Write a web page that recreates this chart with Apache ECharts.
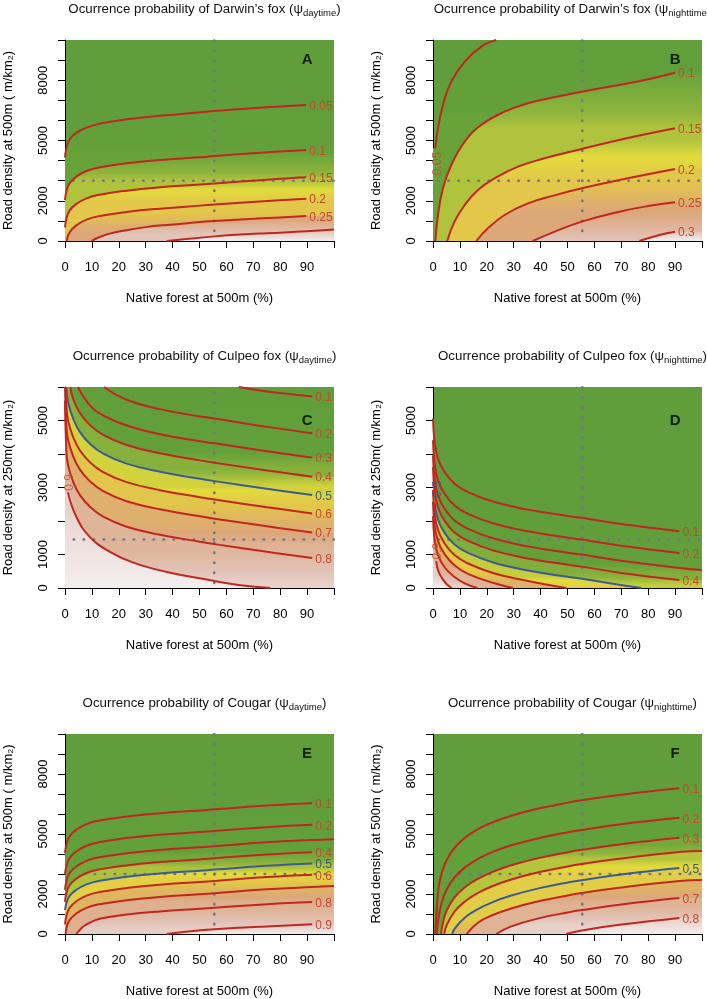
<!DOCTYPE html>
<html><head><meta charset="utf-8">
<script src="https://cdn.jsdelivr.net/npm/echarts@6/dist/echarts.min.js"></script>
<style>html,body{margin:0;padding:0;background:#fff}#c{width:707px;height:999px}</style>
</head><body><div id="c"></div>
<script>
// ================= DATA =================
const forestTickLabels = [0,10,20,30,40,50,60,70,80,90];
const roadTickLabels500 = [0,2000,5000,8000];
const roadTickLabels250 = [0,1000,3000,5000];

// Panel A: Darwin's fox, daytime
const levelsA = [0.05,0.1,0.15,0.2,0.25,0.3];
const contoursA = [
 [[0,4150],[0.5,4600],[1.7,5050],[4.2,5380],[8,5640],[12.9,5840],[22.9,6060],[35.3,6230],[50.2,6400],[55.6,6470],[75.1,6650],[89.7,6766]],
 [[0,2040],[0.5,2454],[1.7,2869],[4.2,3200],[8,3483],[12.9,3665],[22.9,3864],[35.3,4030],[50.2,4163],[55.6,4230],[75.1,4411],[89.7,4527]],
 [[0,680],[0.5,1094],[1.7,1509],[4.2,1840],[8,2123],[12.9,2305],[22.9,2504],[35.3,2670],[50.2,2810],[55.6,2860],[75.1,3051],[89.7,3167]],
 [[0.6,0],[1.7,430],[4.2,779],[8,1062],[12.9,1244],[22.9,1443],[35.3,1609],[50.2,1760],[55.6,1810],[75.1,1990],[89.7,2106]],
 [[9.8,0],[12.9,200],[17,380],[22.9,540],[30,690],[37.8,800],[50.2,940],[55.6,1000],[75.1,1140],[89.7,1244]],
 [[37.8,0],[45,100],[55.6,230],[65,320],[75.1,390],[89.7,480],[100,570]]
];
// Panel B: Darwin's fox, nighttime
const levelsB = [0.05,0.1,0.15,0.2,0.25,0.3];
const contoursB = [
 [[0.87,4610],[1.86,5605],[3.7,6766],[6.8,7927],[11.8,8922],[17.9,9668],[23.5,10000]],
 [[0.87,0],[1.86,1294],[3.7,2620],[6.8,3781],[11.8,4942],[17.9,5771],[26.6,6434],[35.3,6849],[45,7150],[55.3,7430],[69.3,7761],[80,8050],[90,8375]],
 [[5.3,0],[8,962],[11.8,1791],[16.7,2537],[22.9,3118],[31.6,3698],[41.5,4113],[50.1,4411],[55.3,4580],[70,5050],[90,5605]],
 [[16.1,0],[20.4,630],[26.6,1294],[35.3,1874],[45.2,2270],[55.3,2620],[69.3,3035],[90,3582]],
 [[37.1,0],[44.6,430],[55.3,962],[69.3,1459],[80,1740],[90,1924]],
 [[76.7,0],[84.2,300],[90,464]]
];
// Panel C: Culpeo fox, daytime
const levelsC = [0.1,0.2,0.3,0.4,0.5,0.6,0.7,0.8,0.9];
const contoursC = [
 [[64.6,6000],[75.1,5868],[91.9,5719]],
 [[14.5,6000],[22.9,5620],[35.3,5340],[50.2,5120],[55.6,5060],[75.1,4810],[91.9,4621]],
 [[4.8,6000],[9.2,5460],[14.2,5150],[22.9,4850],[35.3,4590],[50.2,4380],[55.6,4320],[75.1,4080],[91.9,3892]],
 [[2,6000],[3,5650],[5.5,5230],[9.2,4870],[14.2,4570],[22.9,4270],[35.3,4020],[50.2,3810],[55.6,3740],[75.1,3510],[91.9,3323]],
 [[0.5,6000],[1.1,5559],[3,5060],[5.5,4661],[9.2,4311],[14.2,4012],[22.9,3713],[35.3,3470],[50.2,3260],[55.6,3190],[75.1,2960],[91.9,2774]],
 [[0.15,6000],[0.5,5450],[1.1,5010],[3,4510],[5.5,4110],[9.2,3760],[14.2,3460],[22.9,3160],[35.3,2920],[50.2,2710],[55.6,2640],[75.1,2410],[91.9,2226]],
 [[0.05,6000],[0.5,4880],[1.1,4440],[3,3940],[5.5,3540],[9.2,3190],[14.2,2890],[22.9,2590],[35.3,2350],[50.2,2140],[55.6,2070],[75.1,1840],[91.9,1657]],
 [[0,5600],[0.5,4120],[1.1,3680],[3,3180],[5.5,2780],[9.2,2430],[14.2,2130],[22.9,1830],[35.3,1590],[50.2,1380],[55.6,1310],[75.1,1080],[91.9,898]],
 [[1.1,2854],[4.2,2126],[9.2,1527],[16.7,1078],[25.4,758],[37.8,479],[55.6,210],[65.2,80],[76.4,0]]
];
// Panel D: Culpeo fox, nighttime
const levelsD = [0.1,0.2,0.3,0.4,0.5,0.6,0.7,0.8,0.9];
const contoursD = [
 [[0,5060],[0.6,4361],[1.86,3862],[4.3,3463],[8,3114],[13,2864],[22.9,2565],[35.3,2340],[50.1,2150],[55.3,2095],[69.3,1915],[91.6,1697]],
 [[0,4411],[0.6,3712],[1.86,3213],[4.3,2814],[8,2465],[13,2215],[22.9,1916],[35.3,1691],[50.1,1501],[55.3,1446],[69.3,1266],[91.6,1048]],
 [[0,3963],[0.6,3264],[1.86,2765],[4.3,2366],[8,2017],[13,1767],[22.9,1468],[35.3,1243],[50.1,1053],[55.3,998],[69.3,818],[91.6,600],[100,535]],
 [[0,3603],[0.6,2904],[1.86,2405],[4.3,2006],[8,1657],[13,1407],[22.9,1108],[35.3,883],[50.1,693],[55.3,638],[69.3,458],[91.6,240]],
 [[0.6,2544],[1.86,2045],[4.3,1646],[8,1297],[13,1047],[22.9,748],[35.3,523],[50.1,333],[55.3,278],[69.3,98],[77.4,0]],
 [[0,2928],[0.6,2229],[1.86,1730],[4.3,1331],[8,982],[13,732],[22.9,433],[35.3,210],[49.5,0]],
 [[0,2574],[0.6,1875],[1.86,1400],[4.3,1010],[8,680],[13,420],[22.9,140],[29.7,0]],
 [[0,2143],[0.6,1444],[1.86,980],[4.3,620],[8,330],[12,130],[16.5,0]],
 [[1.2,800],[2,500],[3.5,280],[5,120],[7,0]]
];
// Panel E: Cougar, daytime
const levelsE = [0.1,0.2,0.3,0.4,0.5,0.6,0.7,0.8,0.9];
const contoursE = [
 [[0,4052],[0.5,4466],[1.7,4881],[4.2,5212],[8,5495],[12.9,5677],[22.9,5876],[35.3,6042],[50.2,6175],[55.6,6232],[75.1,6423],[91.9,6539]],
 [[0,2971],[0.5,3385],[1.7,3800],[4.2,4131],[8,4414],[12.9,4596],[22.9,4795],[35.3,4961],[50.2,5094],[55.6,5151],[75.1,5342],[91.9,5458]],
 [[0,2213],[0.5,2627],[1.7,3042],[4.2,3373],[8,3656],[12.9,3838],[22.9,4037],[35.3,4203],[50.2,4336],[55.6,4393],[75.1,4584],[91.9,4700],[100,4742]],
 [[0,1606],[0.5,2020],[1.7,2435],[4.2,2766],[8,3049],[12.9,3231],[22.9,3430],[35.3,3596],[50.2,3729],[55.6,3786],[75.1,3977],[91.9,4093]],
 [[0,1200],[0.5,1520],[1.7,1900],[4.2,2210],[8,2483],[12.9,2665],[22.9,2864],[35.3,3030],[50.2,3163],[55.6,3220],[75.1,3411],[91.9,3527]],
 [[0,475],[0.5,889],[1.7,1304],[4.2,1635],[8,1918],[12.9,2100],[22.9,2299],[35.3,2465],[50.2,2598],[55.6,2655],[75.1,2846],[91.9,2962]],
 [[0.25,0],[0.5,277],[1.7,692],[4.2,1023],[8,1306],[12.9,1488],[22.9,1687],[35.3,1853],[50.2,1986],[55.6,2043],[75.1,2234],[91.9,2350],[100,2396]],
 [[4.2,0],[6,280],[8,480],[12.9,760],[22.9,970],[35.3,1130],[50.2,1260],[55.6,1310],[75.1,1490],[91.9,1597]],
 [[37.8,0],[45,110],[55.6,233],[75.1,380],[91.9,483]]
];
// Panel F: Cougar, nighttime
const levelsF = [0.1,0.2,0.3,0.4,0.5,0.6,0.7,0.8];
const contoursF = [
 [[0.8,0],[1,340],[2,2238],[3.1,2981],[5,3680],[8,4309],[12,4826],[16.7,5238],[22,5575],[29.1,5915],[40,6298],[50.1,6568],[55.3,6686],[70,6967],[91.6,7288]],
 [[1.4,0],[2,757],[3.1,1500],[5,2199],[8,2828],[12,3345],[16.7,3757],[22,4094],[29.1,4434],[40,4817],[50.1,5087],[55.3,5205],[70,5486],[91.6,5807]],
 [[3,0],[3.6,500],[5,1150],[8,1830],[12,2347],[16.7,2759],[22,3096],[29.1,3436],[40,3819],[50.1,4089],[55.3,4207],[70,4488],[91.6,4809]],
 [[4.2,0],[5,420],[8,1121],[12,1638],[16.7,2050],[22,2387],[29.1,2727],[40,3110],[50.1,3380],[55.3,3498],[70,3779],[91.6,4100],[100,4150]],
 [[7.2,0],[8,260],[12,833],[16.7,1245],[22,1582],[29.1,1922],[40,2305],[50.1,2575],[55.3,2693],[70,2974],[91.6,3295]],
 [[12.5,0],[16.7,560],[22,937],[29.1,1277],[40,1660],[50.1,1930],[55.3,2048],[70,2329],[91.6,2650],[100,2700]],
 [[23.5,0],[29.1,380],[40,807],[50.1,1077],[55.3,1195],[70,1476],[91.6,1797]],
 [[49.5,0],[55.3,180],[70,470],[91.6,799]]
];

// reference (mean) lines
const refVA = [[55.5,500],[55.5,10000]],  refHA = [[3,3000],[100,3000]];
const refVB = [[55.5,500],[55.5,10000]],  refHB = [[2,3000],[100,3000]];
const refVC = [[55.5,150],[55.5,6000]],   refHC = [[3.2,1450],[100,1450]];
const refVD = [[55.5,600],[55.5,6000]],   refHD = [[2,1450],[100,1450]];
const refVE = [[55.5,480],[55.5,10000]],  refHE = [[7.3,3000],[100,3000]];
const refVF = [[55.5,480],[55.5,10000]],  refHF = [[6.2,3000],[100,3000]];

// ================= STYLE =================
const FONT = '"Liberation Sans", Arial, Helvetica, sans-serif';
const RED = '#c1271f', BLUE = '#3d5a93', LABEL_RED = '#c4492b', LABEL_BLUE = '#3d5a7a';
// colour ramp (position 0..1 -> colour), and the probability span mapped onto it in each panel
const PALETTE = [[0,'#5f9e3a'],[0.30,'#63a03a'],[0.42,'#90b53c'],[0.52,'#e3db3c'],[0.62,'#e2c24d'],[0.75,'#dca77a'],[0.88,'#e2c2b6'],[1,'#f3efef']];
const spanA = [-0.01,0.34], spanB = [-0.01,0.34], spanC = [0.03,0.97], spanD = [0.05,0.98], spanE = [0.1,0.98], spanF = [-0.005,0.87];

const PW = 269, PH = 201;
const yName500 = 'Road density at 500m ( m/km\u2082)';
const yName250 = 'Road density at 250m( m/km\u2082)';

const panels = [
 {letter:'A', species:'Darwin\u2019s fox', period:'daytime',  levels:levelsA, contours:contoursA, yMax:10000, yLabels:roadTickLabels500, yName:yName500, refV:refVA, refH:refHA, left:65,  top:40,  span:spanA, letterPos:[90,9000], edge:[]},
 {letter:'B', species:'Darwin\u2019s fox', period:'nighttime',levels:levelsB, contours:contoursB, yMax:10000, yLabels:roadTickLabels500, yName:yName500, refV:refVB, refH:refHB, left:433, top:40,  span:spanB, letterPos:[90,9000], edge:[{i:0, pos:[1.6,3850]}]},
 {letter:'C', species:'Culpeo fox',        period:'daytime',  levels:levelsC, contours:contoursC, yMax:6000,  yLabels:roadTickLabels250, yName:yName250, refV:refVC, refH:refHC, left:65,  top:387, span:spanC, letterPos:[90,5000], edge:[{i:8, pos:[1.6,3150]}]},
 {letter:'D', species:'Culpeo fox',        period:'nighttime',levels:levelsD, contours:contoursD, yMax:6000,  yLabels:roadTickLabels250, yName:yName250, refV:refVD, refH:refHD, left:433, top:387, span:spanD, letterPos:[90,5000], edge:[{i:4, pos:[1.6,2950]},{i:8, pos:[1.6,1100]}]},
 {letter:'E', species:'Cougar',            period:'daytime',  levels:levelsE, contours:contoursE, yMax:10000, yLabels:roadTickLabels500, yName:yName500, refV:refVE, refH:refHE, left:65,  top:734, span:spanE, letterPos:[90,9000], edge:[]},
 {letter:'F', species:'Cougar',            period:'nighttime',levels:levelsF, contours:contoursF, yMax:10000, yLabels:roadTickLabels500, yName:yName500, refV:refVF, refH:refHF, left:433, top:734, span:spanF, letterPos:[90,9000], edge:[]}
];

// ---- helpers (styling only) ----
function hex2rgb(h){ return [parseInt(h.slice(1,3),16), parseInt(h.slice(3,5),16), parseInt(h.slice(5,7),16)]; }
function rampColor(t){
  t = Math.max(0, Math.min(1, t));
  for (let i = 1; i < PALETTE.length; i++) {
    if (t <= PALETTE[i][0]) {
      const [t0,c0] = PALETTE[i-1], [t1,c1] = PALETTE[i];
      const f = (t - t0) / (t1 - t0), a = hex2rgb(c0), b = hex2rgb(c1);
      return 'rgb(' + a.map((v,j) => Math.round(v + (b[j]-v)*f)).join(',') + ')';
    }
  }
  return PALETTE[PALETTE.length-1][1];
}
// y of a contour at a given x (used only to place colour gradients)
function contourYAt(c, x, yMax){
  if (!c) return 0;
  const f = c[0], l = c[c.length-1];
  if (x <= f[0]) return f[1] >= yMax ? yMax : (f[1] <= 0 ? 0 : f[1]);
  if (x >= l[0]) return l[1] <= 0 ? 0 : l[1];
  for (let i = 1; i < c.length; i++) if (x <= c[i][0]) {
    const a = c[i-1], b = c[i];
    return a[1] + (b[1]-a[1]) * (x - a[0]) / (b[0] - a[0]);
  }
  return l[1];
}
function bandGradient(p, k){
  const span = p.span, tOf = v => (v - span[0]) / (span[1] - span[0]);
  const a = p.levels[k], b = (k+1 < p.levels.length) ? p.levels[k+1] : span[1];
  const up = p.contours[k], lo = p.contours[k+1];
  const cands = [70, 90, 50, 35, 22, 12, 6, 3];
  const hs = cands.map(x => contourYAt(up, x, p.yMax) - contourYAt(lo, x, p.yMax));
  const hmax = Math.max(...hs);
  const xr = cands[hs.findIndex(h => h >= 0.85*hmax)];
  const pix = y => p.top + PH * (1 - y / p.yMax);
  const y0 = pix(contourYAt(up, xr, p.yMax)), y1 = pix(contourYAt(lo, xr, p.yMax));
  if (y1 - y0 < 2) return rampColor(tOf((a+b)/2));
  const stops = [{offset:0, color:rampColor(tOf(a))}];
  PALETTE.forEach(([t]) => {
    const v = span[0] + t*(span[1]-span[0]);
    if (v > a && v < b) stops.push({offset:(v-a)/(b-a), color:rampColor(t)});
  });
  stops.push({offset:1, color:rampColor(tOf(b))});
  return {type:'linear', x:0, y:y0, x2:0, y2:y1, global:true, colorStops:stops};
}
function fillData(pts, yMax) {
  const d = pts.slice();
  const f = d[0], l = d[d.length-1];
  if (f[1] >= yMax && f[0] > 0) d.unshift([0, yMax]);
  else if (f[1] > 0 && f[0] > 0) d.unshift([0, f[1]]);
  if (l[1] >= yMax && l[0] < 100) d.push([100, yMax]);
  else if (l[1] > 0 && l[0] < 100) d.push([100, l[1]]);
  return d;
}
const fmtLevel = v => String(v);
const SMOOTH = 0.45;

const option = {animation:false, textStyle:{fontFamily:FONT}, title:[], grid:[], xAxis:[], yAxis:[], series:[]};
panels.forEach((p, gi) => {
  option.title.push({
    text: '{t|Ocurrence probability of ' + p.species + ' (}{p|\u03c8}{s|' + p.period + '}{t|)}',
    left: p.left + PW/2, top: p.top - 45, textAlign: 'center',
    textStyle: {fontWeight:'normal', rich: {
      t:{fontSize:13.3, fontFamily:FONT, fontWeight:'normal', color:'#111', lineHeight:18},
      p:{fontSize:13.3, fontFamily:FONT, fontWeight:'normal', color:'#111', lineHeight:18},
      s:{fontSize:9.5, fontFamily:FONT, fontWeight:'normal', color:'#111', lineHeight:9, verticalAlign:'bottom'}
    }}
  });
  option.grid.push({left:p.left, top:p.top, width:PW, height:PH, show:true, backgroundColor:rampColor(0), borderWidth:0});
  option.xAxis.push({
    gridIndex:gi, type:'value', min:0, max:100, interval:10,
    axisLine:{show:true, onZero:false, lineStyle:{color:'#000', width:1}},
    axisTick:{show:true, length:7, lineStyle:{color:'#000'}},
    splitLine:{show:false},
    axisLabel:{color:'#000', fontSize:13, margin:20, fontFamily:FONT, formatter: v => forestTickLabels.includes(v) ? String(v) : ''},
    name:'Native forest at 500m (%)', nameLocation:'middle', nameGap:51,
    nameTextStyle:{fontSize:13, color:'#000', fontFamily:FONT}
  });
  option.yAxis.push({
    gridIndex:gi, type:'value', min:0, max:p.yMax, interval:1000,
    axisLine:{show:true, onZero:false, lineStyle:{color:'#000', width:1}},
    axisTick:{show:true, length:7, lineStyle:{color:'#000'}},
    splitLine:{show:false},
    axisLabel:{color:'#000', fontSize:13, margin:15, rotate:90, fontFamily:FONT, formatter: v => p.yLabels.includes(v) ? String(v) : ''},
    name:p.yName, nameLocation:'middle', nameRotate:90, nameGap:50,
    nameTextStyle:{fontSize:13, color:'#000', fontFamily:FONT}
  });
  // filled bands (area below each contour = higher occurrence probability)
  p.contours.forEach((c, k) => {
    option.series.push({
      type:'line', xAxisIndex:gi, yAxisIndex:gi, data:fillData(c, p.yMax), smooth:SMOOTH,
      symbol:'none', silent:true, z:1, lineStyle:{width:0, opacity:0},
      areaStyle:{color:bandGradient(p, k), opacity:1}
    });
  });
  // dotted reference lines
  [p.refV, p.refH].forEach(d => option.series.push({
    type:'line', xAxisIndex:gi, yAxisIndex:gi, data:d, symbol:'none', silent:true, z:2,
    lineStyle:{color:'#74768a', width:2.6, type:[0.5,9.5], cap:'round'}
  }));
  // contour lines
  p.contours.forEach((c, k) => {
    const lvl = p.levels[k];
    const isBlue = lvl === 0.5;
    const last = c[c.length-1];
    const labelled = last[0] < 99 && last[1] > 0 && last[1] < p.yMax;
    option.series.push({
      type:'line', xAxisIndex:gi, yAxisIndex:gi, data:c, smooth:SMOOTH,
      symbol:'none', silent:true, z:3,
      lineStyle:{color:isBlue?BLUE:RED, width:2},
      endLabel:{show:labelled, formatter:fmtLevel(lvl), color:isBlue?LABEL_BLUE:LABEL_RED, fontSize:12, fontFamily:FONT, distance:3, offset:[0,1.5]}
    });
  });
  // rotated labels at the left edge
  p.edge.forEach(e => {
    const lvl = p.levels[e.i];
    option.series.push({
      type:'scatter', xAxisIndex:gi, yAxisIndex:gi, data:[e.pos], symbolSize:1, itemStyle:{color:'rgba(0,0,0,0)'}, silent:true, z:4,
      label:{show:true, position:'inside', formatter:fmtLevel(lvl), rotate:90, color:lvl===0.5?LABEL_BLUE:LABEL_RED, fontSize:12, fontFamily:FONT}
    });
  });
  // panel letter
  option.series.push({
    type:'scatter', xAxisIndex:gi, yAxisIndex:gi, data:[p.letterPos], symbolSize:1, itemStyle:{color:'rgba(0,0,0,0)'}, silent:true, z:4,
    label:{show:true, position:'inside', formatter:p.letter, color:'#000', fontSize:15, fontWeight:'bold', fontFamily:FONT}
  });
});

const chart = echarts.init(document.getElementById('c'), null, {renderer:'canvas'});
chart.setOption(option);
</script></body></html>
